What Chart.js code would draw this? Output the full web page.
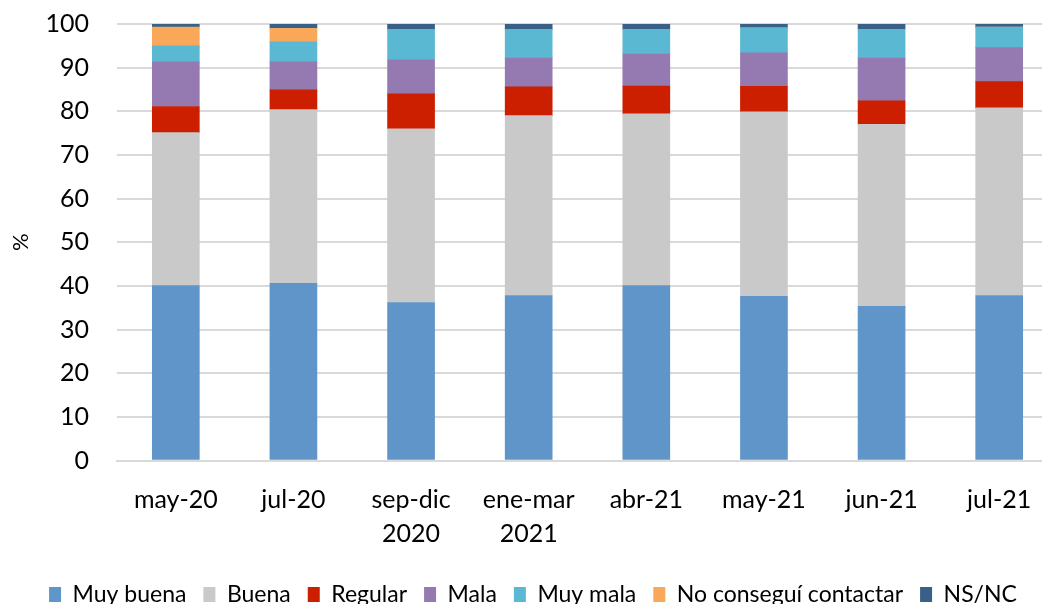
<!DOCTYPE html>
<html>
<head>
<meta charset="utf-8">
<script src="https://cdn.jsdelivr.net/npm/chart.js@4"></script>
<style>
  html, body { margin: 0; padding: 0; background: #fff; overflow: hidden; }
  #wrap { position: absolute; left: 0; top: -19px; width: 1062px; height: 635px; }
</style>
</head>
<body>
<div id="wrap"><canvas id="chart"></canvas></div>
<script>
const categories = ['may-20', 'jul-20', ['sep-dic', '2020'], ['ene-mar', '2021'], 'abr-21', 'may-21', 'jun-21', 'jul-21'];

const muyBuena   = [40.1, 40.6, 36.2, 37.8, 40.1, 37.6, 35.3, 37.8];
const buena      = [35.0, 39.8, 39.8, 41.2, 39.3, 42.3, 41.7, 43.0];
const regular    = [6.0, 4.5, 8.0, 6.6, 6.4, 5.8, 5.4, 6.0];
const mala       = [10.3, 6.5, 7.8, 6.6, 7.3, 7.7, 9.8, 7.8];
const muyMala    = [3.6, 4.5, 7.0, 6.5, 5.7, 5.7, 6.6, 4.7];
const noContacto = [4.3, 3.1, 0, 0, 0, 0, 0, 0];
const nsnc       = [0.7, 1.0, 1.2, 1.3, 1.2, 0.9, 1.2, 0.7];

const yTicks = [0, 10, 20, 30, 40, 50, 60, 70, 80, 90, 100];

const font = "'Lato', 'Liberation Sans', sans-serif";

function ds(label, data, color) {
    return {
        label: label,
        data: data,
        backgroundColor: color,
        borderWidth: 0,
        barThickness: 47
    };
}

new Chart(document.getElementById('chart').getContext('2d'), {
    type: 'bar',
    data: {
        labels: categories,
        datasets: [
            ds('Muy buena', muyBuena, '#5f95c9'),
            ds('Buena', buena, '#c9c9c9'),
            ds('Regular', regular, '#cc1f00'),
            ds('Mala', mala, '#957ab1'),
            ds('Muy mala', muyMala, '#5bb8d2'),
            ds('No conseguí contactar', noContacto, '#f9a85a'),
            ds('NS/NC', nsnc, '#386088')
        ]
    },
    options: {
        responsive: true,
        maintainAspectRatio: false,
        animation: false,
        layout: { padding: { top: 0, left: 8, right: 4, bottom: 0 } },
        plugins: {
            tooltip: { enabled: false },
            legend: {
                position: 'bottom',
                labels: {
                    font: { family: font, size: 23 },
                    color: '#000',
                    boxWidth: 12,
                    boxHeight: 15,
                    padding: 17
                }
            }
        },
        scales: {
            x: {
                stacked: true,
                grid: { display: false },
                border: { color: '#d9d9d9', width: 2 },
                ticks: {
                    font: { family: font, size: 25, lineHeight: 1.35 },
                    color: '#000',
                    padding: 15,
                    maxRotation: 0
                }
            },
            y: {
                stacked: true,
                min: 0,
                max: 100,
                afterBuildTicks: axis => { axis.ticks = yTicks.map(v => ({ value: v })); },
                afterFit: axis => { axis.width = 109; },
                grid: { color: '#d9d9d9', lineWidth: 2, drawTicks: false },
                border: { display: false },
                ticks: {
                    font: { family: font, size: 25 },
                    color: '#000',
                    padding: 28
                },
                title: {
                    display: true,
                    text: '%',
                    font: { family: font, size: 22 },
                    color: '#000',
                    padding: { top: 0, bottom: 0 }
                }
            }
        }
    }
});
</script>
</body>
</html>
